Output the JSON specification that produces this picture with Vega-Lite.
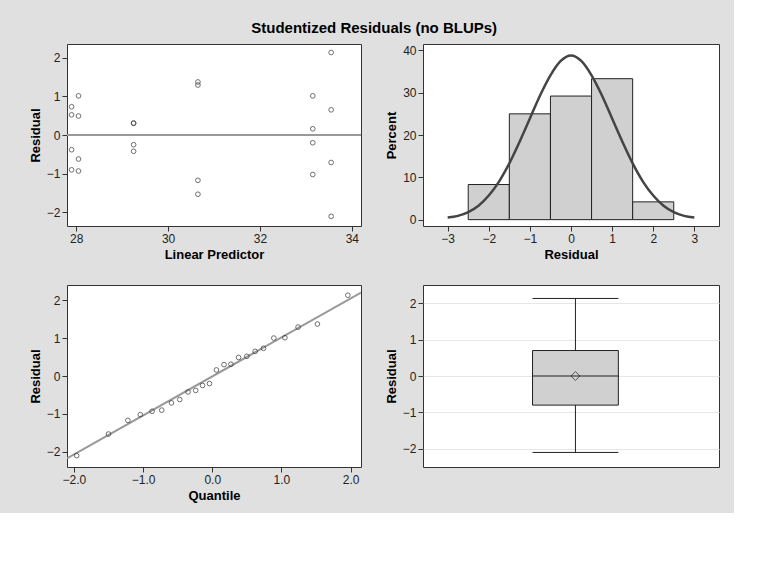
{
  "$schema": "https://vega.github.io/schema/vega-lite/v6.json",
  "background": "#e0e0e0",
  "padding": {"left": 28, "top": 20, "right": 14, "bottom": 10},
  "title": {"text": "Studentized Residuals (no BLUPs)", "fontSize": 15, "font": "Liberation Sans", "fontWeight": "bold", "color": "black", "anchor": "middle", "offset": 8},
  "datasets": {
    "resid": [
      {"pred": 27.9, "r": 0.73}, {"pred": 27.9, "r": 0.52}, {"pred": 27.9, "r": -0.38}, {"pred": 27.9, "r": -0.9},
      {"pred": 28.05, "r": 1.01}, {"pred": 28.05, "r": 0.49}, {"pred": 28.05, "r": -0.62}, {"pred": 28.05, "r": -0.93},
      {"pred": 29.25, "r": 0.31}, {"pred": 29.25, "r": 0.3}, {"pred": 29.25, "r": -0.25}, {"pred": 29.25, "r": -0.42},
      {"pred": 30.65, "r": 1.37}, {"pred": 30.65, "r": 1.29}, {"pred": 30.65, "r": -1.17}, {"pred": 30.65, "r": -1.53},
      {"pred": 33.15, "r": 1.01}, {"pred": 33.15, "r": 0.16}, {"pred": 33.15, "r": -0.2}, {"pred": 33.15, "r": -1.02},
      {"pred": 33.55, "r": 2.13}, {"pred": 33.55, "r": 0.65}, {"pred": 33.55, "r": -0.71}, {"pred": 33.55, "r": -2.1}
    ],
    "qq": [
      {"q": -1.96, "r": -2.1}, {"q": -1.5, "r": -1.53}, {"q": -1.22, "r": -1.17}, {"q": -1.04, "r": -1.02},
      {"q": -0.87, "r": -0.93}, {"q": -0.73, "r": -0.9}, {"q": -0.59, "r": -0.71}, {"q": -0.47, "r": -0.62},
      {"q": -0.35, "r": -0.42}, {"q": -0.24, "r": -0.38}, {"q": -0.14, "r": -0.25}, {"q": -0.04, "r": -0.2},
      {"q": 0.06, "r": 0.16}, {"q": 0.17, "r": 0.3}, {"q": 0.27, "r": 0.31}, {"q": 0.38, "r": 0.49},
      {"q": 0.5, "r": 0.52}, {"q": 0.62, "r": 0.65}, {"q": 0.74, "r": 0.73}, {"q": 0.89, "r": 1.0},
      {"q": 1.05, "r": 1.01}, {"q": 1.24, "r": 1.29}, {"q": 1.52, "r": 1.37}, {"q": 1.96, "r": 2.13}
    ],
    "hist": [
      {"lo": -2.5, "hi": -1.5, "base": 0, "pct": 8.3}, {"lo": -1.5, "hi": -0.5, "base": 0, "pct": 25},
      {"lo": -0.5, "hi": 0.5, "base": 0, "pct": 29.2}, {"lo": 0.5, "hi": 1.5, "base": 0, "pct": 33.3},
      {"lo": 1.5, "hi": 2.5, "base": 0, "pct": 4.2}
    ],
    "curve": [
      {"x": -3, "y": 0.5}, {"x": -2.75, "y": 0.9}, {"x": -2.5, "y": 1.8}, {"x": -2.25, "y": 3.3},
      {"x": -2, "y": 5.7}, {"x": -1.75, "y": 9.0}, {"x": -1.5, "y": 13.3}, {"x": -1.25, "y": 18.4},
      {"x": -1, "y": 23.9}, {"x": -0.75, "y": 29.4}, {"x": -0.5, "y": 34.1}, {"x": -0.25, "y": 37.5},
      {"x": 0, "y": 38.8}, {"x": 0.25, "y": 37.5}, {"x": 0.5, "y": 34.1}, {"x": 0.75, "y": 29.4},
      {"x": 1, "y": 23.9}, {"x": 1.25, "y": 18.4}, {"x": 1.5, "y": 13.3}, {"x": 1.75, "y": 9.0},
      {"x": 2, "y": 5.7}, {"x": 2.25, "y": 3.3}, {"x": 2.5, "y": 1.8}, {"x": 2.75, "y": 0.9},
      {"x": 3, "y": 0.5}
    ],
    "box": [{"x1": 0.37, "x2": 0.66, "xm": 0.515, "lo": -2.1, "q1": -0.8, "med": 0.0, "q3": 0.7, "hi": 2.13, "mean": 0.0}]
  },
  "config": {
    "font": "Liberation Sans",
    "view": {"fill": "white", "stroke": "#333", "strokeWidth": 1},
    "axis": {"grid": false, "labelFontSize": 12, "labelColor": "#222", "titleFontSize": 13, "titleFontWeight": "bold", "titleColor": "black", "domain": false, "tickColor": "#333", "labelFont": "Liberation Sans"},
    "concat": {"spacing": 22}
  },
  "columns": 2,
  "concat": [
    {
      "width": 294, "height": 182,
      "data": {"name": "resid"},
      "layer": [
        {"mark": {"type": "rule", "color": "#999"}, "encoding": {"y": {"datum": 0, "type": "quantitative"}}},
        {"mark": {"type": "point", "size": 22, "stroke": "#333", "strokeWidth": 1},
         "encoding": {
           "x": {"field": "pred", "type": "quantitative", "title": "Linear Predictor", "scale": {"domain": [27.8, 34.2], "nice": false}, "axis": {"values": [28, 30, 32, 34]}},
           "y": {"field": "r", "type": "quantitative", "title": "Residual", "scale": {"domain": [-2.35, 2.35], "nice": false}, "axis": {"values": [-2, -1, 0, 1, 2]}}
         }}
      ]
    },
    {
      "width": 296, "height": 182,
      "layer": [
        {"data": {"name": "hist"}, "mark": {"type": "rect", "fill": "#d0d0d0", "stroke": "#222", "strokeWidth": 1},
         "encoding": {
           "x": {"field": "lo", "type": "quantitative", "title": "Residual", "scale": {"domain": [-3.6, 3.6], "nice": false}, "axis": {"values": [-3, -2, -1, 0, 1, 2, 3]}},
           "x2": {"field": "hi"},
           "y": {"field": "base", "type": "quantitative", "title": "Percent", "scale": {"domain": [-1.5, 41.5], "nice": false}, "axis": {"values": [0, 10, 20, 30, 40]}},
           "y2": {"field": "pct"}
         }},
        {"data": {"name": "curve"}, "mark": {"type": "line", "color": "#444", "strokeWidth": 2.5, "interpolate": "monotone"},
         "encoding": {"x": {"field": "x", "type": "quantitative"}, "y": {"field": "y", "type": "quantitative"}}}
      ]
    },
    {
      "width": 294, "height": 182,
      "layer": [
        {"data": {"values": [{"q": -2.1, "r": -2.17}, {"q": 2.15, "r": 2.2}]}, "mark": {"type": "line", "color": "#999", "clip": true},
         "encoding": {"x": {"field": "q", "type": "quantitative"}, "y": {"field": "r", "type": "quantitative"}}},
        {"data": {"name": "qq"}, "mark": {"type": "point", "size": 22, "stroke": "#333", "strokeWidth": 1},
         "encoding": {
           "x": {"field": "q", "type": "quantitative", "title": "Quantile", "scale": {"domain": [-2.1, 2.15], "nice": false}, "axis": {"values": [-2, -1, 0, 1, 2]}},
           "y": {"field": "r", "type": "quantitative", "title": "Residual", "scale": {"domain": [-2.4, 2.4], "nice": false}, "axis": {"values": [-2, -1, 0, 1, 2]}}
         }}
      ]
    },
    {
      "width": 296, "height": 182,
      "data": {"name": "box"},
      "layer": [
        {"mark": {"type": "rule", "color": "#222"}, "encoding": {
          "x": {"field": "xm", "type": "quantitative", "scale": {"domain": [0, 1]}, "axis": null},
          "y": {"field": "lo", "type": "quantitative", "title": "Residual", "scale": {"domain": [-2.5, 2.5], "nice": false}, "axis": {"values": [-2, -1, 0, 1, 2], "grid": true, "gridColor": "#e6e6e6"}},
          "y2": {"field": "hi"}}},
        {"mark": {"type": "rect", "fill": "#d0d0d0", "stroke": "#222"}, "encoding": {"x": {"field": "x1", "type": "quantitative"}, "x2": {"field": "x2"}, "y": {"field": "q1", "type": "quantitative"}, "y2": {"field": "q3"}}},
        {"mark": {"type": "rule", "color": "#222"}, "encoding": {"x": {"field": "x1", "type": "quantitative"}, "x2": {"field": "x2"}, "y": {"field": "med", "type": "quantitative"}}},
        {"mark": {"type": "rule", "color": "#222"}, "encoding": {"x": {"field": "x1", "type": "quantitative"}, "x2": {"field": "x2"}, "y": {"field": "lo", "type": "quantitative"}}},
        {"mark": {"type": "rule", "color": "#222"}, "encoding": {"x": {"field": "x1", "type": "quantitative"}, "x2": {"field": "x2"}, "y": {"field": "hi", "type": "quantitative"}}},
        {"mark": {"type": "point", "shape": "diamond", "size": 80, "stroke": "#222", "strokeWidth": 1}, "encoding": {"x": {"field": "xm", "type": "quantitative"}, "y": {"field": "mean", "type": "quantitative"}}}
      ]
    }
  ]
}
